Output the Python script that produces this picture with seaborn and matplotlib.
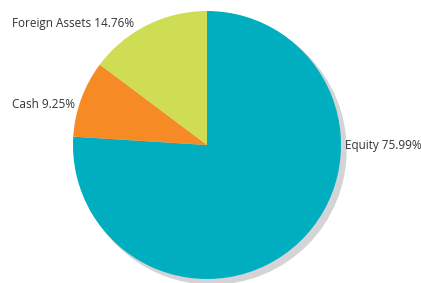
import matplotlib
matplotlib.use("Agg")
import matplotlib.pyplot as plt
import seaborn as sns
from matplotlib.patches import Circle

labels = ["Equity", "Cash", "Foreign Assets"]
shares = [75.99, 9.25, 14.76]
colors = ["#00aec0", "#f68a24", "#cfdd55"]

sns.set_theme(style="white")
plt.rcParams['font.family'] = ['Open Sans', 'DejaVu Sans']

fig = plt.figure(figsize=(4.21, 2.83), dpi=100)
ax = fig.add_axes([0, 0, 1, 1])
ax.set_xlim(0, 421)
ax.set_ylim(0, 283)
ax.set_aspect('equal')
ax.axis('off')

cx, cy, r = 207, 138, 134

# drop shadow
ax.add_patch(Circle((cx + 5, cy - 5), r, color="#d4d4d6", zorder=0))

ax.pie(shares, colors=colors, startangle=90, counterclock=False,
       center=(cx, cy), radius=r, frame=True,
       wedgeprops=dict(linewidth=0))
ax.set_xlim(0, 421)
ax.set_ylim(0, 283)
ax.axis('off')

# label positions in pixels (x, y from top)
label_pos = [(345, 145), (12, 104), (12, 24)]
for lab, val, (x, y) in zip(labels, shares, label_pos):
    ax.text(x, 283 - y, f"{lab} {val:.2f}%", fontsize=8.5, color="#333333",
            ha="left", va="center")

fig.savefig("out.png", dpi=100)
